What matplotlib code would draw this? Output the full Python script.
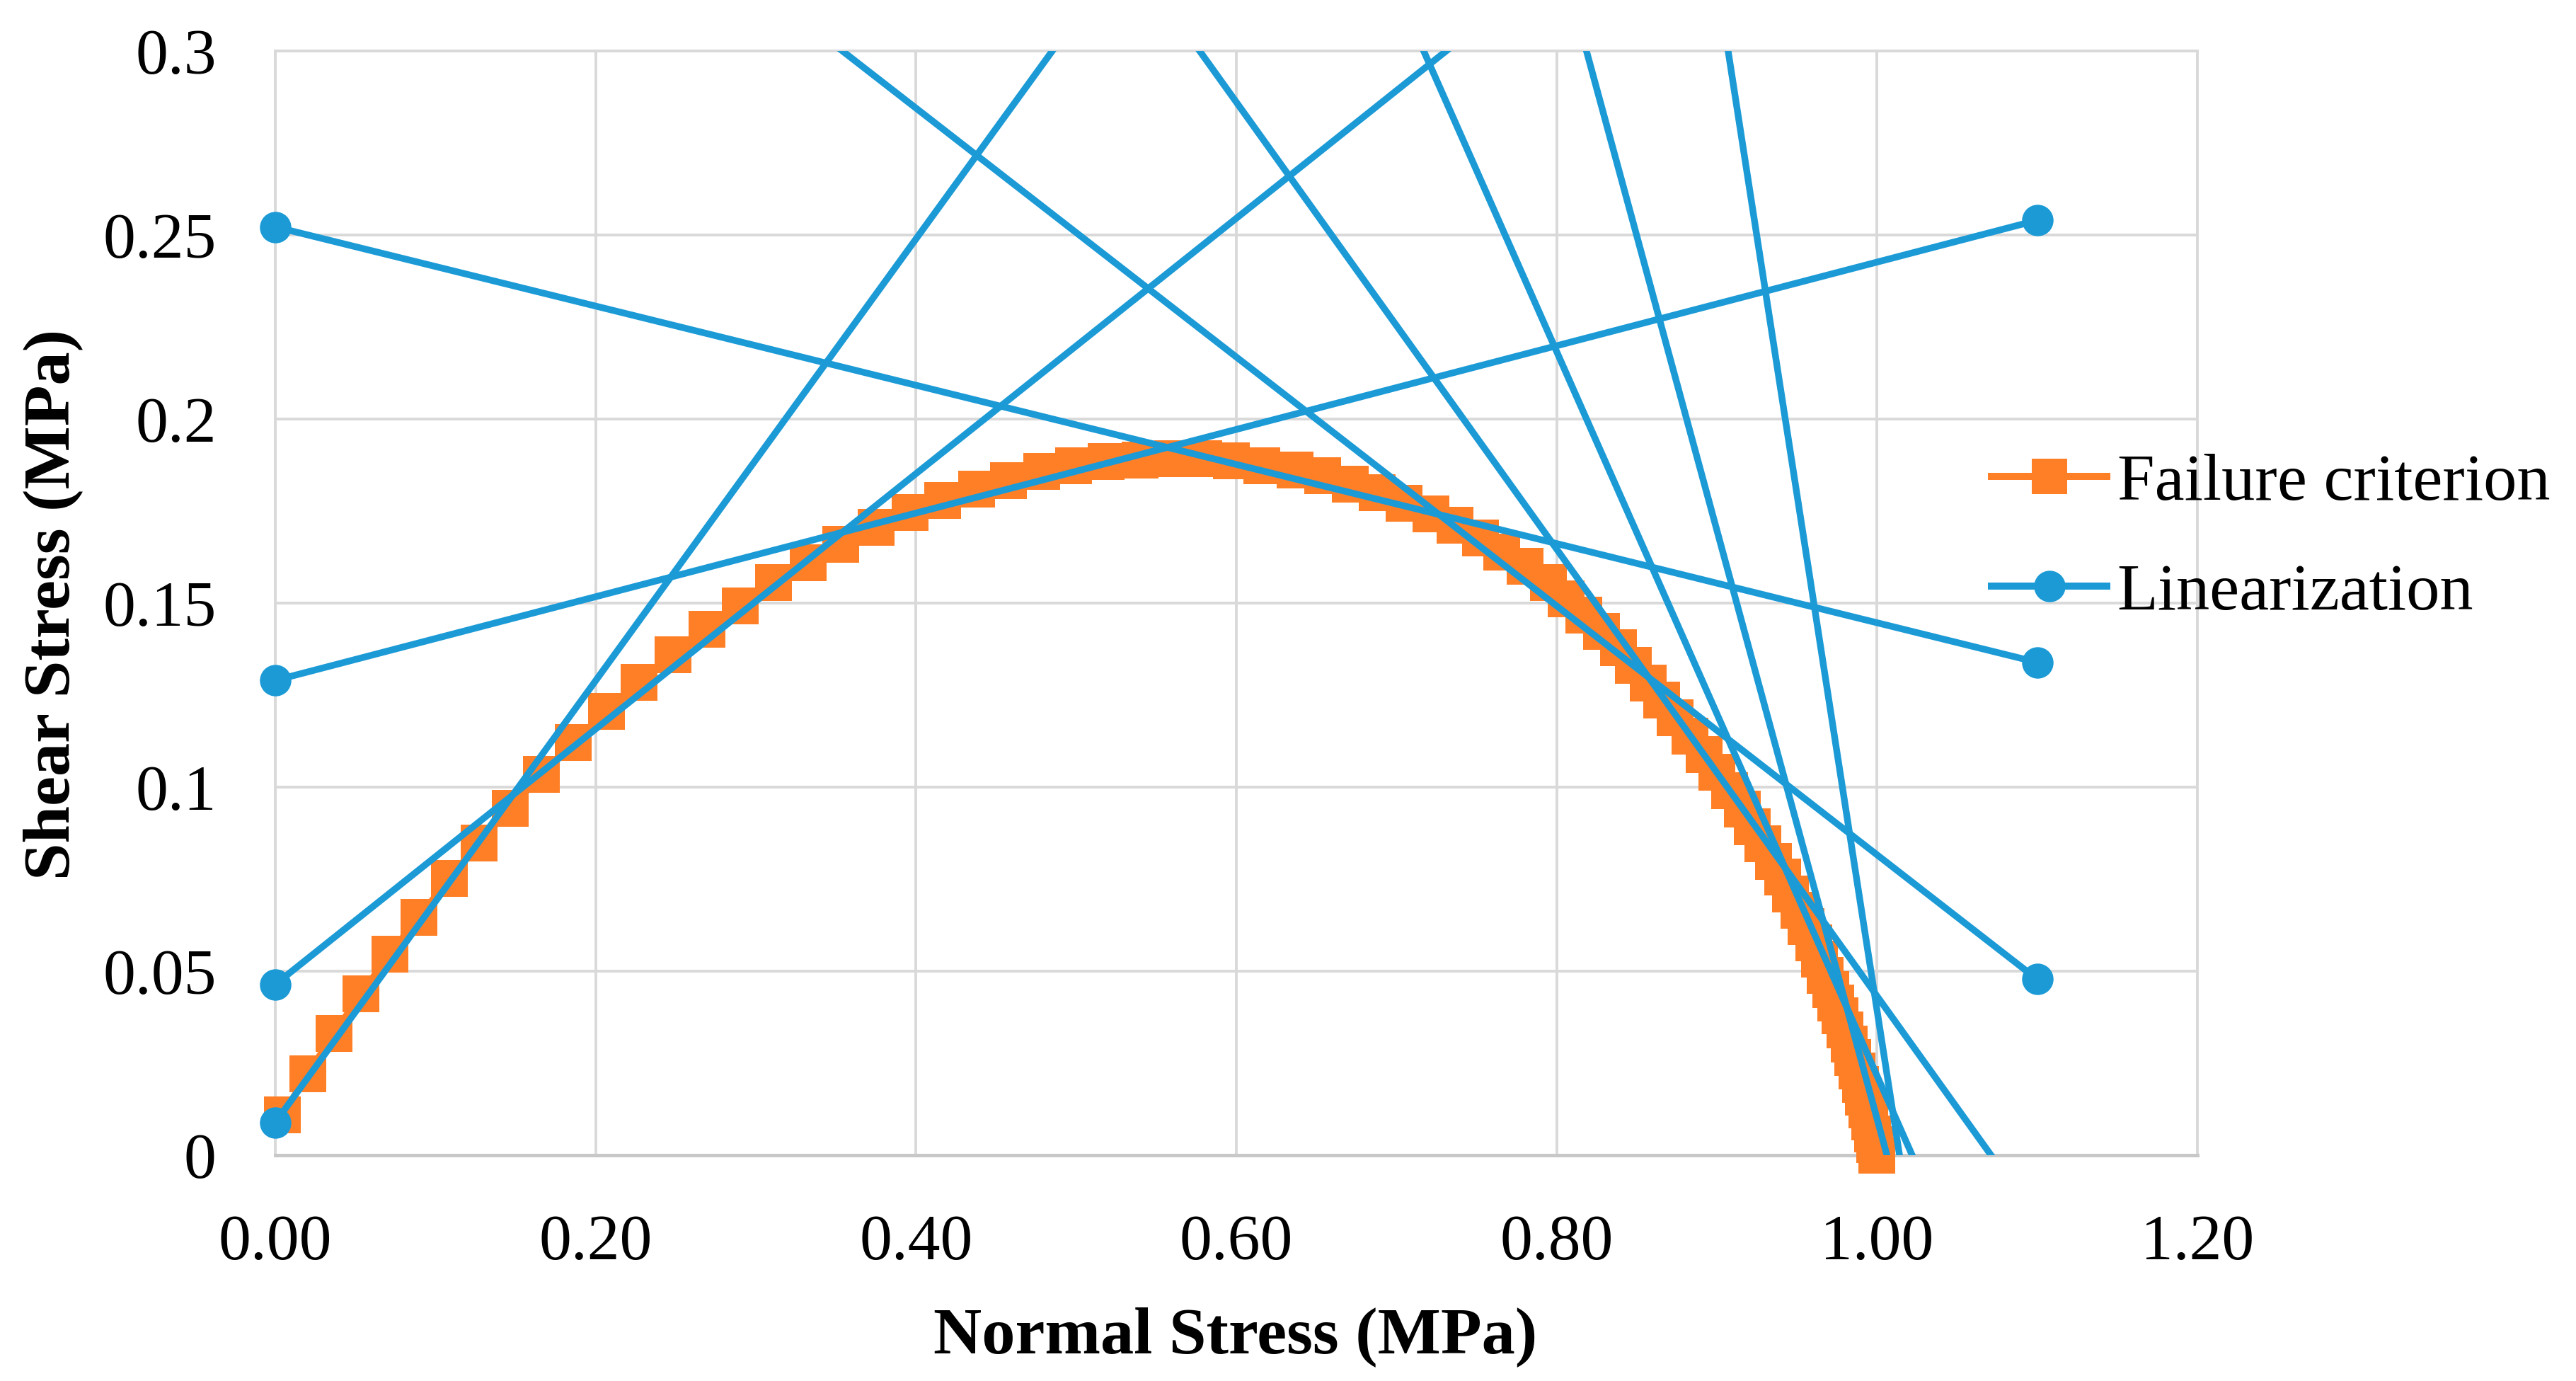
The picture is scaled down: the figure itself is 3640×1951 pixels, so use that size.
import matplotlib
matplotlib.use("Agg")
import matplotlib.pyplot as plt
from matplotlib.ticker import FixedLocator, FixedFormatter
from matplotlib.lines import Line2D

plt.rcParams['font.family'] = ['Liberation Serif', 'DejaVu Serif']

# ---------------- data ----------------
fail_x = [0.0044, 0.0205, 0.0366, 0.0535, 0.0714, 0.0896, 0.1086, 0.1273, 0.1468, 0.1662,
          0.1862, 0.2068, 0.2273, 0.2481, 0.2696, 0.2901, 0.3112, 0.3325, 0.3532, 0.3750,
          0.3962, 0.4167, 0.4378, 0.4578, 0.4783, 0.4982, 0.5188, 0.5399, 0.5604, 0.5795,
          0.5971, 0.6161, 0.6367, 0.6537, 0.6713, 0.6880, 0.7047, 0.7217, 0.7364, 0.7525,
          0.7657, 0.7804, 0.7950, 0.8060, 0.8170, 0.8280, 0.8385, 0.8480, 0.8570, 0.8655,
          0.8740, 0.8830, 0.8920, 0.9000, 0.9080, 0.9158, 0.9223, 0.9288, 0.9353, 0.9409,
          0.9459, 0.9511, 0.9557, 0.9604, 0.9641, 0.9678, 0.9712, 0.9743, 0.9771, 0.9799,
          0.9825, 0.9850, 0.9873, 0.9895, 0.9916, 0.9935, 0.9953, 0.9970, 0.9986, 1.0000]
fail_y = [0.0109, 0.0222, 0.0331, 0.0438, 0.0546, 0.0647, 0.0751, 0.0849, 0.0942, 0.1034,
          0.1122, 0.1205, 0.1285, 0.1359, 0.1428, 0.1493, 0.1555, 0.1609, 0.1659, 0.1705,
          0.1747, 0.1779, 0.1810, 0.1833, 0.1858, 0.1873, 0.1884, 0.1889, 0.1892, 0.1892,
          0.1887, 0.1874, 0.1861, 0.1846, 0.1823, 0.1800, 0.1772, 0.1743, 0.1711, 0.1677,
          0.1639, 0.1600, 0.1556, 0.1512, 0.1468, 0.1424, 0.1378, 0.1330, 0.1282, 0.1236,
          0.1188, 0.1139, 0.1089, 0.1040, 0.0990, 0.0941, 0.0892, 0.0846, 0.0799, 0.0755,
          0.0710, 0.0666, 0.0621, 0.0577, 0.0532, 0.0488, 0.0450, 0.0414, 0.0378, 0.0340,
          0.0302, 0.0265, 0.0228, 0.0192, 0.0157, 0.0123, 0.0090, 0.0058, 0.0028, 0.0000]

# linearization segments: each from (lin_x0, lin_y0[i]) to (lin_x1, lin_y1[i])
lin_x0 = 0.0
lin_x1 = 1.1
lin_y0 = [0.0089, 0.0464, 0.1290, 0.2522, 0.4197, 0.6504, 1.0053, 1.6090, 2.8430]
lin_y1 = [0.6690, 0.4280, 0.2540, 0.1339, 0.0478, -0.0175, -0.0768, -0.1500, -0.2410]

x_ticks = [0.0, 0.2, 0.4, 0.6, 0.8, 1.0, 1.2]
x_tick_labels = ['0.00', '0.20', '0.40', '0.60', '0.80', '1.00', '1.20']
y_ticks = [0.0, 0.05, 0.1, 0.15, 0.2, 0.25, 0.3]
y_tick_labels = ['0', '0.05', '0.1', '0.15', '0.2', '0.25', '0.3']

ORANGE = '#FF7F27'
BLUE = '#1B9AD6'
GRID = '#D9D9D9'

# ---------------- figure ----------------
fig = plt.figure(figsize=(18.2, 9.755), dpi=200)
ax = fig.add_axes([0.10687, 0.16351, 0.74615, 0.79959])

ax.set_xlim(0, 1.2)
ax.set_ylim(0, 0.3)

ax.plot(fail_x, fail_y, color=ORANGE, lw=3.4, marker='s', markersize=18.5,
        markeredgewidth=0, clip_on=False, zorder=3, label='Failure criterion')

for i, (a, b) in enumerate(zip(lin_y0, lin_y1)):
    ax.plot([lin_x0, lin_x1], [a, b], color=BLUE, lw=3.4, zorder=4,
            label='Linearization' if i == 0 else None)
    for xx, yy in ((lin_x0, a), (lin_x1, b)):
        if 0.0 <= yy <= 0.3:
            ax.plot([xx], [yy], 'o', color=BLUE, markersize=16, markeredgewidth=0,
                    clip_on=False, zorder=5)

ax.xaxis.set_major_locator(FixedLocator(x_ticks))
ax.xaxis.set_major_formatter(FixedFormatter(x_tick_labels))
ax.yaxis.set_major_locator(FixedLocator(y_ticks))
ax.yaxis.set_major_formatter(FixedFormatter(y_tick_labels))
ax.tick_params(length=0, labelsize=33, pad=30, colors='black')

ax.grid(True, color=GRID, lw=1.4, zorder=0)
ax.set_axisbelow(True)
for s in ['top', 'right', 'left']:
    ax.spines[s].set_color(GRID)
    ax.spines[s].set_linewidth(1.4)
ax.spines['bottom'].set_color('#C8C8C8')
ax.spines['bottom'].set_linewidth(1.8)

fig.text(0.4797, 0.0205, 'Normal Stress (MPa)', ha='center', va='baseline',
         fontsize=34, fontweight='bold')
fig.text(0.0266, 0.5623, 'Shear Stress (MPa)', ha='center', va='baseline',
         rotation=90, rotation_mode='anchor', fontsize=34, fontweight='bold')

# legend handles
h1 = Line2D([], [], color=ORANGE, lw=3.6, marker='s', markersize=18, markeredgewidth=0)
h2 = Line2D([], [], color=BLUE, lw=3.6, marker='o', markersize=16, markeredgewidth=0)
fig.legend([h1, h2], ['Failure criterion', 'Linearization'],
           loc='center left', bbox_to_anchor=(0.7731, 0.6100),
           frameon=False, fontsize=34, handlelength=1.73, handletextpad=0.15,
           labelspacing=0.73, borderpad=0, borderaxespad=0, numpoints=1)

fig.savefig('out.png', dpi=200)
